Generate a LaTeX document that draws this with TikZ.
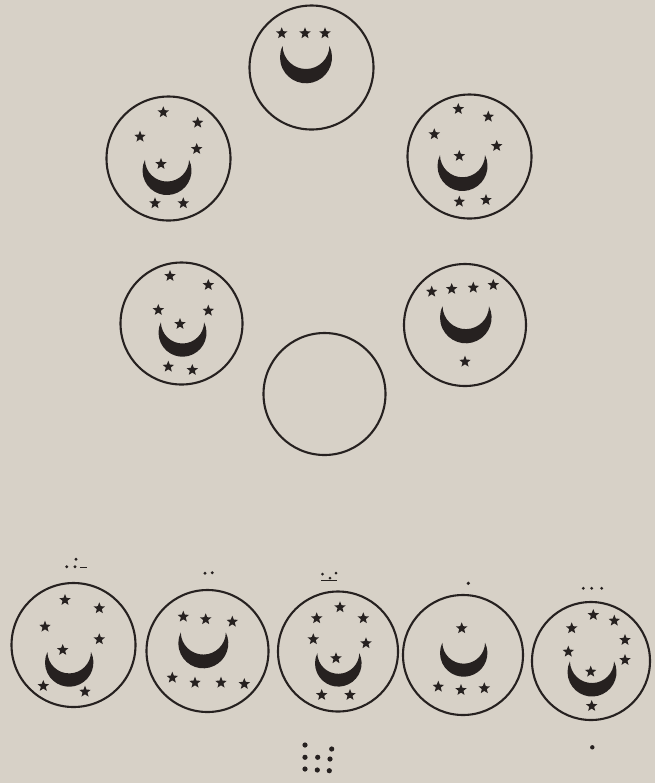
\documentclass[tikz,border=0pt]{standalone}
\definecolor{paper}{RGB}{215,209,199}
\definecolor{ink}{RGB}{38,33,32}
\tikzset{
  ring/.style={draw=ink, line width=1.05pt},
  crescent/.pic={
    \begin{scope}[yscale=-1]
      \fill[ink] (25.7:#1) arc[start angle=25.7, end angle=-205.7, radius=#1]
        arc[start angle=181.1, end angle=358.9, radius=0.901*#1] -- cycle;
    \end{scope}
  },
  starmark/.pic={
    \fill[ink] (-90:6) -- (-54:2.6) -- (-18:6) -- (18:2.6) -- (54:6) -- (90:2.6)
      -- (126:6) -- (162:2.6) -- (198:6) -- (234:2.6) -- cycle;
  }
}
\begin{document}
\begin{tikzpicture}[x=0.5pt, y=-0.5pt]
\fill[paper] (0,0) rectangle (655,783);
\useasboundingbox (0,0) rectangle (655,783);

% top
\draw[ring] (311.5,67.5) circle[radius=62];
\pic at (306,57.3) {crescent=26};
\foreach \p in {(281.7,33.3),(305,33.3),(325,33.3)}
  \pic at \p {starmark};

% second row
\draw[ring] (168.5,158.5) circle[radius=62];
\pic at (167,170.5) {crescent=24.5};
\foreach \p in {(163.3,112.3),(197.7,122.7),(140,136.7),(196.7,149),(161,164),(155,203.3),(183.3,203.3)}
  \pic at \p {starmark};

\draw[ring] (469.5,156.5) circle[radius=62];
\pic at (462.5,166) {crescent=25};
\foreach \p in {(458.3,109),(488.3,116.7),(434.3,134.3),(496.7,146),(459.3,156),(459.3,201.7),(486,200)}
  \pic at \p {starmark};

% third row
\draw[ring] (181.5,323.5) circle[radius=61];
\pic at (182.5,332.7) {crescent=24};
\foreach \p in {(170,276),(208.3,285),(158.3,310),(208.3,310.7),(180,324),(168.3,366.7),(192.3,370)}
  \pic at \p {starmark};

\draw[ring] (465,325) circle[radius=61];
\pic at (465.8,317.5) {crescent=25.8};
\foreach \p in {(431.7,291.7),(451.7,289),(473.3,287.7),(493.3,285),(465,361.7)}
  \pic at \p {starmark};

% empty one
\draw[ring] (324.5,394) circle[radius=61];

% bottom row
\draw[ring] (73.5,645) circle[radius=62];
\pic at (69.2,662.5) {crescent=24.2};
\foreach \p in {(65,600),(99.3,608.3),(45,626.7),(99.3,639.3),(62.7,650),(43.3,686),(85,691.7)}
  \pic at \p {starmark};
\foreach \p in {(76,559.3),(66.7,566.7),(75,566.7)}
  \fill[ink] \p circle[radius=1.6];
\draw[ink, line width=0.8pt] (80,567.3) -- (87,567.3);

\draw[ring] (207.5,651) circle[radius=61];
\pic at (203.3,643.3) {crescent=25};
\foreach \p in {(183.3,616.7),(205.7,619.3),(232.3,621.7),(172.3,677.7),(195,682.7),(221,682.7),(244.3,684)}
  \pic at \p {starmark};
\foreach \p in {(205,573.3),(212.3,572.7)}
  \fill[ink] \p circle[radius=1.6];

\draw[ring] (338,651.5) circle[radius=60];
\pic at (338.3,663.3) {crescent=23.3};
\foreach \p in {(340,607.3),(316.7,618.3),(363.3,618.3),(313.3,639.3),(366,643.3),(336,658.3),(321.7,695),(350,695)}
  \pic at \p {starmark};
\foreach \p in {(322.5,574),(336,573),(330,578)}
  \fill[ink] \p circle[radius=1.5];
\draw[ink, line width=0.8pt] (321,580.5) -- (337,580.5);

\draw[ring] (463,655) circle[radius=60];
\pic at (463.7,653) {crescent=23.7};
\foreach \p in {(461.7,628.3),(438.3,686.7),(461,690),(484.3,688.3)}
  \pic at \p {starmark};
\fill[ink] (468.3,583.3) circle[radius=1.8];

\draw[ring] (591,661) circle[radius=59];
\pic at (592,672) {crescent=24.5};
\foreach \p in {(593.3,615),(614.3,620.7),(571.7,628.3),(625,640),(568.3,651.7),(625,660),(590.7,671.7),(591.7,706)}
  \pic at \p {starmark};
\foreach \p in {(583.3,588.3),(591.7,588.3),(601.7,588.3)}
  \fill[ink] \p circle[radius=1.6];

% dots below
\foreach \p in {(305,745),(331.7,749),(305,757.3),(317.7,757.3),(330,759),(305,769),(317.3,770),(329.3,770.7)}
  \fill[ink] \p circle[radius=2.6];
\fill[ink] (592.3,747.3) circle[radius=2.2];
\end{tikzpicture}
\end{document}
